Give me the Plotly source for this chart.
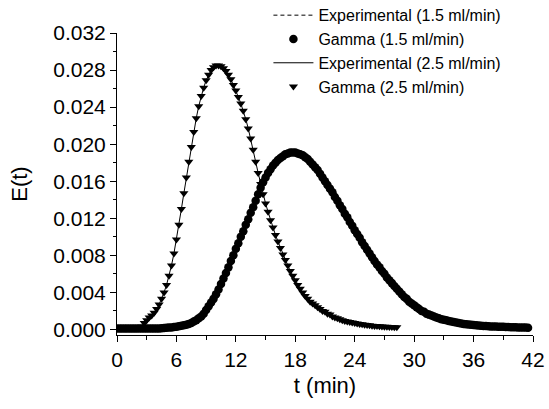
import plotly.graph_objects as go

# Sampling interval of the curves (min)
T_STEP = 0.25

# 2.5 ml/min : E(t) values, t = 0 .. 28.25 min
E_25 = [
    0.0001, 0.0001, 0.0001, 0.0001, 0.0001, 0.0001, 0.0001, 0.0001,
    0.0001, 0.0002, 0.0003, 0.0007, 0.0010, 0.0013, 0.0015, 0.0018,
    0.0022, 0.0027, 0.0033, 0.0040, 0.0048, 0.0058, 0.0069, 0.0082,
    0.0097, 0.0113, 0.0130, 0.0147, 0.0164, 0.0181, 0.0197, 0.0213,
    0.0228, 0.0241, 0.0252, 0.0261, 0.0269, 0.0275, 0.0280, 0.0283,
    0.0285, 0.0285, 0.0284, 0.0282, 0.0279, 0.0275, 0.0270, 0.0264,
    0.0258, 0.0251, 0.0244, 0.0236, 0.0227, 0.0217, 0.0206, 0.0194,
    0.0181, 0.0169, 0.0157, 0.0146, 0.0136, 0.0127, 0.0118, 0.0110,
    0.0102, 0.0095, 0.0088, 0.0081, 0.0075, 0.0069, 0.0063, 0.0058,
    0.0053, 0.0048, 0.0044, 0.0040, 0.0036, 0.0033, 0.0030, 0.0028,
    0.0026, 0.0024, 0.0022, 0.0020, 0.0019, 0.0017, 0.0016, 0.0014,
    0.0013, 0.0012, 0.0011, 0.0010, 0.0009, 0.00085, 0.0008, 0.00075,
    0.0007, 0.00065, 0.0006, 0.00055, 0.0005, 0.00047, 0.00044, 0.00041,
    0.00038, 0.00036, 0.00034, 0.00032, 0.0003, 0.00028, 0.00027, 0.00026,
    0.00025, 0.00024,
]

# 1.5 ml/min : E(t) values, t = 0 .. 41.5 min
E_15 = [
    0.0001, 0.0001, 0.0001, 0.0001, 0.0001, 0.0001, 0.0001, 0.0001,
    0.0001, 0.0001, 0.0001, 0.0001, 0.0001, 0.0001, 0.0001, 0.0001,
    0.0001, 0.0001, 0.00012, 0.00015, 0.00018, 0.0002, 0.00022, 0.00026,
    0.0003, 0.00034, 0.0004, 0.00045, 0.0005, 0.0006, 0.0007, 0.00085,
    0.0010, 0.0012, 0.0014, 0.0017, 0.0021, 0.0025, 0.0029, 0.0033,
    0.0038, 0.0043, 0.0049, 0.0055, 0.0061, 0.0067, 0.0074, 0.0080,
    0.0087, 0.0093, 0.0100, 0.0106, 0.0113, 0.0119, 0.0126, 0.0132,
    0.0139, 0.0146, 0.0153, 0.0159, 0.0164, 0.0169, 0.0173, 0.0177,
    0.0180, 0.0183, 0.0185, 0.0187, 0.0189, 0.0190, 0.0191, 0.0191,
    0.0191, 0.0190, 0.0189, 0.0188, 0.0186, 0.0184, 0.0181, 0.0178,
    0.0175, 0.0172, 0.0168, 0.0164, 0.0160, 0.0156, 0.0152, 0.0148,
    0.0143, 0.0139, 0.0134, 0.0130, 0.0125, 0.0121, 0.0116, 0.0112,
    0.0107, 0.0103, 0.0099, 0.0094, 0.0090, 0.0086, 0.0082, 0.0078,
    0.0074, 0.0070, 0.0067, 0.0063, 0.0060, 0.0056, 0.0053, 0.0050,
    0.0047, 0.0044, 0.0041, 0.0038, 0.0035, 0.0033, 0.0030, 0.0028,
    0.0026, 0.0024, 0.0022, 0.0020, 0.0019, 0.0017, 0.0016, 0.0015,
    0.0014, 0.0013, 0.0012, 0.0011, 0.00105, 0.00098, 0.0009, 0.00085,
    0.0008, 0.00075, 0.0007, 0.00065, 0.0006, 0.00056, 0.00053, 0.0005,
    0.00047, 0.00045, 0.00042, 0.0004, 0.00038, 0.00036, 0.00035, 0.00033,
    0.00032, 0.00031, 0.0003, 0.00029, 0.00028, 0.00027, 0.00026, 0.00025,
    0.00024, 0.00023, 0.00022, 0.00021, 0.0002, 0.0002, 0.00019,
]

t_25 = [i * T_STEP for i in range(len(E_25))]
t_15 = [i * T_STEP for i in range(len(E_15))]

# experimental curves coincide with the gamma fits at this scale
exp_E_15 = E_15
exp_E_25 = E_25

names = ["Experimental (1.5 ml/min)", "Gamma (1.5 ml/min)",
         "Experimental (2.5 ml/min)", "Gamma (2.5 ml/min)"]

x_ticks = [0, 6, 12, 18, 24, 30, 36, 42]
y_ticks = [0.000, 0.004, 0.008, 0.012, 0.016, 0.020, 0.024, 0.028, 0.032]

FONT = "Liberation Sans, Arial, sans-serif"

fig = go.Figure()
fig.add_trace(go.Scatter(x=t_15, y=exp_E_15, mode="lines", name=names[0],
                         line=dict(color="black", width=1, dash="4px,3px")))
fig.add_trace(go.Scatter(x=t_15, y=E_15, mode="markers", name=names[1],
                         marker=dict(symbol="circle", size=8.5, color="black")))
fig.add_trace(go.Scatter(x=t_25, y=exp_E_25, mode="lines", name=names[2],
                         line=dict(color="black", width=1)))
fig.add_trace(go.Scatter(x=t_25, y=E_25, mode="markers", name=names[3],
                         marker=dict(symbol="triangle-down", size=8, color="black")))

axis_common = dict(
    showline=True, linecolor="black", linewidth=1, mirror=False,
    showgrid=False, zeroline=False,
    ticks="outside", ticklen=6, tickwidth=1, tickcolor="black",
    tickfont=dict(family=FONT, size=21, color="black"),
)

fig.update_layout(
    width=549, height=409,
    margin=dict(l=117, r=16, t=33, b=74, autoexpand=False),
    paper_bgcolor="white", plot_bgcolor="white",
    font=dict(family=FONT, color="black"),
    showlegend=True,
    legend=dict(
        x=0.364, xanchor="left", y=1.115, yanchor="top",
        bgcolor="rgba(0,0,0,0)", borderwidth=0,
        font=dict(family=FONT, size=16, color="black"),
        itemwidth=40, tracegroupgap=0,
    ),
    xaxis=dict(
        range=[0, 42], tickvals=x_ticks,
        minor=dict(dtick=3, ticks="outside", ticklen=3.5, tickcolor="black", showgrid=False),
        title=dict(text="t (min)", font=dict(family=FONT, size=22, color="black"), standoff=7),
        **axis_common,
    ),
    yaxis=dict(
        range=[-0.0006, 0.032], tickvals=y_ticks, tickformat=".3f",
        minor=dict(dtick=0.002, ticks="outside", ticklen=3.5, tickcolor="black", showgrid=False),
        title=dict(text="E(t)", font=dict(family=FONT, size=22, color="black"), standoff=19),
        **axis_common,
    ),
)

fig.write_html("out.html")
